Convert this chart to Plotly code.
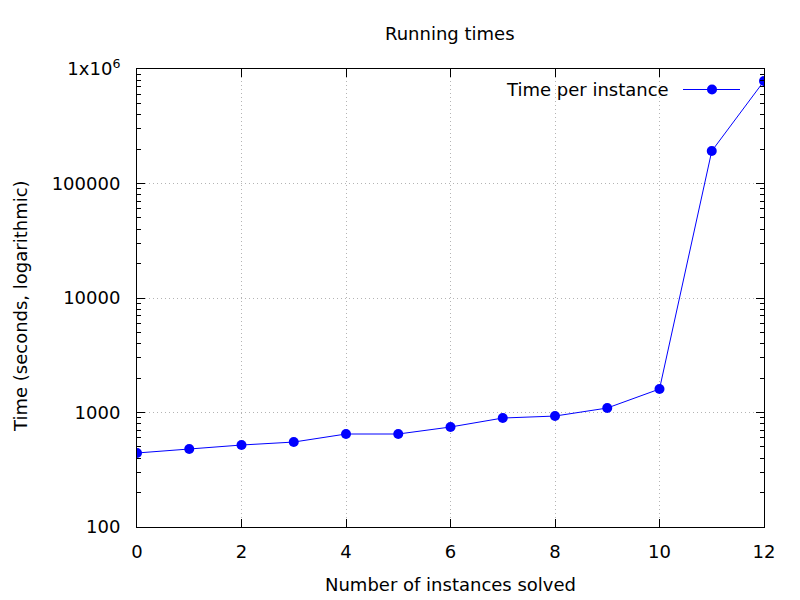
import plotly.graph_objects as go

instances = [0, 1, 2, 3, 4, 5, 6, 7, 8, 9, 10, 11, 12]
times = [443, 480, 520, 552, 649, 649, 747, 895, 931, 1094, 1603, 192000, 785000]
y_tickvals = [100, 1000, 10000, 100000, 1000000]
y_ticktext = ["100", "1000", "10000", "100000", "1x10<sup>6</sup>"]
x_tickvals = [0, 2, 4, 6, 8, 10, 12]
series_name = "Time per instance"

FONT = "DejaVu Sans"
FS = 18
BLUE = "#0000ff"

# page pixel geometry of the plot area (the page has an 8px body margin)
PL, PR, PT, PB = 137, 764, 69, 527
PW, PH = PR - PL, PB - PT


def px(x):
    return (x - PL) / PW


def py(y):
    return (PB - y) / PH


fig = go.Figure()
fig.add_trace(go.Scatter(
    x=instances, y=times, mode="lines+markers", name=series_name,
    line=dict(color=BLUE, width=1),
    marker=dict(color=BLUE, size=10),
    showlegend=False,
))

fig.update_layout(
    width=792, height=592,
    margin=dict(l=PL - 8, r=800 - PR, t=PT - 8, b=592 - (PB - 8)),
    paper_bgcolor="white", plot_bgcolor="white",
    font=dict(family=FONT, size=FS, color="black"),
    showlegend=False,
)

# title, axis titles
fig.add_annotation(text="Running times", xref="paper", yref="paper",
                   x=px(450), y=py(34), xanchor="center", yanchor="middle",
                   showarrow=False, font=dict(family=FONT, size=FS))
fig.add_annotation(text="Number of instances solved", xref="paper", yref="paper",
                   x=px(450), y=py(584), xanchor="center", yanchor="middle",
                   showarrow=False, font=dict(family=FONT, size=FS))
fig.add_annotation(text="Time (seconds, logarithmic)", xref="paper", yref="paper",
                   x=px(20), y=py(306), xanchor="center", yanchor="middle", textangle=-90,
                   showarrow=False, font=dict(family=FONT, size=FS))

# gnuplot-style key: text left, sample right
fig.add_annotation(text=series_name, xref="paper", yref="paper",
                   x=px(671), y=py(89), xanchor="right", yanchor="middle",
                   showarrow=False, font=dict(family=FONT, size=FS))
fig.add_shape(type="line", xref="paper", yref="paper",
              x0=px(683), x1=px(740), y0=py(89.5), y1=py(89.5),
              line=dict(color=BLUE, width=1))
fig.add_shape(type="circle", xref="paper", yref="paper",
              x0=px(707), x1=px(717), y0=py(94.5), y1=py(84.5),
              line=dict(color=BLUE, width=0), fillcolor=BLUE)

GRID = dict(showgrid=True, gridcolor="#b4b4b4", griddash="1px,3px", gridwidth=1)

fig.update_xaxes(
    range=[0, 12], tickvals=x_tickvals, ticks="inside", ticklen=8, tickcolor="black",
    showline=True, linecolor="black", linewidth=1, mirror="ticks",
    zeroline=False, tickfont=dict(family=FONT, size=FS), ticklabelstandoff=8,
    **GRID,
)
fig.update_yaxes(
    type="log", range=[2, 6], tickvals=y_tickvals, ticktext=y_ticktext,
    ticks="inside", ticklen=8, tickcolor="black",
    minor=dict(ticks="inside", ticklen=4, dtick="D1", showgrid=False, tickcolor="black"),
    showline=True, linecolor="black", linewidth=1, mirror="ticks",
    zeroline=False, tickfont=dict(family=FONT, size=FS), ticklabelstandoff=12,
    **GRID,
)

fig.write_html("out.html")
